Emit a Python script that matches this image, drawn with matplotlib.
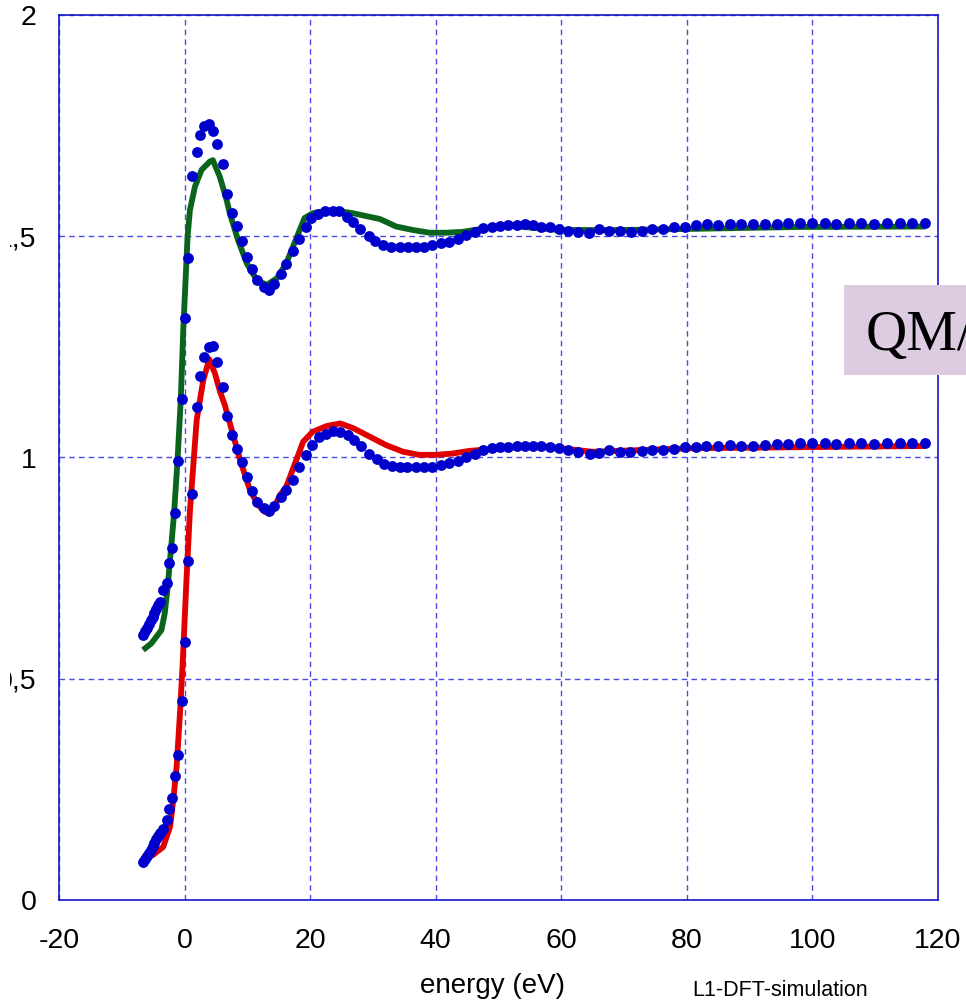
import matplotlib
matplotlib.use("Agg")
import matplotlib.pyplot as plt
from matplotlib.patches import Rectangle

plt.rcParams['font.family'] = ['Liberation Sans', 'DejaVu Sans']

# ---- data ----
exp_upper_x = [-6.62, -6.3, -6.0, -5.7, -5.4, -5.1, -4.8, -4.5, -4.2, -3.9, -3.44, -2.85, -2.48, -2.05,
               -1.53, -1.00, -0.46, 0.06, 0.59, 1.23, 1.93, 2.45, 3.09, 3.89, 4.57, 5.11, 6.07, 6.71,
               7.51, 8.31, 9.11, 9.91, 10.8, 11.6, 12.65, 13.45, 14.29, 15.36, 16.16, 17.3, 18.3,
               19.3, 20.2, 21.3, 22.4, 23.7, 24.6, 25.8, 26.8, 28.0, 29.4, 30.4, 31.6, 32.9, 34.3,
               35.6, 36.8, 38.1, 39.4, 40.8, 42.1, 43.5, 44.8, 46.2, 47.5, 48.9, 50.2, 51.5, 52.9,
               54.2, 55.5, 56.8, 58.2, 59.6, 61.0, 62.7, 64.4, 66.0, 67.6, 69.3, 71.1, 72.8, 74.5,
               76.2, 78.0, 79.7, 81.4, 83.2, 84.9, 86.9, 88.7, 90.5, 92.4, 94.3, 96.1, 98.0, 100.0,
               102.0, 103.8, 105.8, 107.8, 109.8, 111.8, 113.9, 115.9, 118.0]
exp_upper_y = [0.599, 0.607, 0.615, 0.623, 0.632, 0.640, 0.649, 0.657, 0.666, 0.673, 0.700, 0.716,
               0.762, 0.795, 0.875, 0.992, 1.132, 1.315, 1.451, 1.636, 1.690, 1.729, 1.749, 1.754,
               1.738, 1.708, 1.663, 1.595, 1.552, 1.523, 1.489, 1.453, 1.426, 1.401, 1.385, 1.379,
               1.392, 1.415, 1.437, 1.467, 1.494, 1.521, 1.541, 1.550, 1.557, 1.557, 1.557, 1.544,
               1.532, 1.516, 1.501, 1.489, 1.480, 1.476, 1.476, 1.476, 1.476, 1.476, 1.480, 1.485,
               1.487, 1.494, 1.503, 1.510, 1.519, 1.521, 1.524, 1.526, 1.526, 1.528, 1.526, 1.521,
               1.521, 1.517, 1.512, 1.510, 1.508, 1.517, 1.512, 1.512, 1.510, 1.512, 1.517, 1.517,
               1.521, 1.521, 1.526, 1.528, 1.526, 1.528, 1.528, 1.528, 1.528, 1.528, 1.530, 1.530,
               1.530, 1.530, 1.528, 1.530, 1.530, 1.528, 1.530, 1.530, 1.530, 1.530]

exp_lower_x = [-6.62, -6.3, -6.0, -5.7, -5.4, -5.1, -4.8, -4.5, -4.2, -3.9, -3.4, -2.85, -2.48, -2.05,
               -1.53, -1.00, -0.46, 0.06, 0.59, 1.23, 1.93, 2.45, 3.09, 3.89, 4.57, 5.11, 6.07, 6.71,
               7.51, 8.31, 9.11, 9.91, 10.8, 11.6, 12.65, 13.45, 14.29, 15.36, 16.2, 17.3, 18.3,
               19.3, 20.3, 21.4, 22.6, 23.7, 24.7, 26.0, 27.0, 28.1, 29.4, 30.6, 31.8, 33.1, 34.3,
               35.5, 36.8, 38.1, 39.4, 40.8, 42.1, 43.6, 44.9, 46.2, 47.5, 48.9, 50.2, 51.5, 52.9,
               54.2, 55.5, 56.8, 58.2, 59.6, 61.0, 62.7, 64.5, 66.0, 67.6, 69.3, 71.0, 72.8, 74.5,
               76.2, 77.9, 79.7, 81.4, 83.1, 85.0, 86.8, 88.7, 90.5, 92.4, 94.3, 96.1, 98.0, 100.0,
               102.0, 103.8, 105.8, 107.8, 109.8, 111.9, 113.9, 115.9, 118.0]
exp_lower_y = [0.087, 0.093, 0.099, 0.106, 0.113, 0.121, 0.129, 0.137, 0.145, 0.152, 0.160, 0.181,
               0.205, 0.230, 0.280, 0.328, 0.450, 0.582, 0.767, 0.918, 1.115, 1.184, 1.228, 1.250,
               1.252, 1.215, 1.160, 1.093, 1.050, 1.020, 0.990, 0.955, 0.925, 0.900, 0.885, 0.880,
               0.890, 0.910, 0.927, 0.949, 0.978, 1.006, 1.028, 1.046, 1.054, 1.060, 1.058, 1.051,
               1.040, 1.026, 1.009, 0.996, 0.985, 0.981, 0.978, 0.978, 0.978, 0.978, 0.979, 0.983,
               0.987, 0.993, 1.002, 1.009, 1.017, 1.021, 1.023, 1.024, 1.026, 1.026, 1.026, 1.026,
               1.024, 1.021, 1.018, 1.013, 1.009, 1.011, 1.018, 1.013, 1.013, 1.015, 1.017, 1.017,
               1.019, 1.023, 1.024, 1.026, 1.026, 1.028, 1.026, 1.026, 1.028, 1.030, 1.030, 1.032,
               1.032, 1.032, 1.030, 1.033, 1.033, 1.030, 1.033, 1.033, 1.033, 1.032]

theory_upper_x = [-6.62, -5.28, -3.69, -3.16, -2.73, -2.36, -1.67, -1.13, -0.6, -0.21, 0.32, 0.48,
                  0.85, 1.65, 2.71, 4.04, 4.5, 5.6, 6.7, 7.2, 8.5, 9.9, 11.5, 13.1, 14.7, 16.2,
                  17.8, 19.1, 20.4, 23.6, 26.8, 31.1, 33.7, 36.4, 39.0, 41.7, 44.3, 47.0, 49.7,
                  52.3, 59.8, 69.3, 82.0, 98.0, 118.0]
theory_upper_y = [0.565, 0.580, 0.610, 0.648, 0.701, 0.761, 0.874, 0.992, 1.132, 1.288, 1.450, 1.499,
                  1.559, 1.612, 1.650, 1.669, 1.672, 1.635, 1.582, 1.552, 1.492, 1.439, 1.401, 1.390,
                  1.405, 1.439, 1.495, 1.541, 1.552, 1.559, 1.552, 1.539, 1.522, 1.514, 1.508,
                  1.508, 1.510, 1.516, 1.522, 1.523, 1.514, 1.514, 1.517, 1.521, 1.522]

theory_lower_x = [-6.3, -5.0, -3.4, -2.3, -1.8, -1.27, -0.73, -0.3, 0.06, 0.3, 0.86, 1.93, 2.98, 3.93,
                  4.84, 5.64, 6.4, 8.85, 10.4, 11.7, 12.8, 13.9, 15.2, 16.2, 18.9, 20.4, 22.6, 24.8,
                  26.9, 29.5, 32.1, 34.8, 37.4, 40.1, 42.7, 45.4, 48.0, 52.3, 57.6, 65.0, 81.0, 118.0]
theory_lower_y = [0.094, 0.102, 0.120, 0.166, 0.226, 0.301, 0.422, 0.535, 0.648, 0.723, 0.881, 1.085,
                  1.175, 1.222, 1.190, 1.149, 1.119, 0.994, 0.927, 0.893, 0.877, 0.877, 0.915, 0.934,
                  1.036, 1.058, 1.071, 1.077, 1.066, 1.047, 1.028, 1.013, 1.006, 1.006, 1.009, 1.015,
                  1.018, 1.023, 1.024, 1.013, 1.021, 1.026]

x_ticks = [-20, 0, 20, 40, 60, 80, 100, 120]
x_tick_labels = ['-20', '0', '20', '40', '60', '80', '100', '120']
y_ticks = [0, 0.5, 1, 1.5, 2]
y_tick_labels = ['0', '0,5', '1', '1,5', '2']

# ---- figure ----
W, H = 966, 1005
fig = plt.figure(figsize=(W / 100, H / 100), dpi=100)
ax = fig.add_axes([59 / W, 1 - 900 / H, (938 - 59) / W, (900 - 15) / H])

ax.plot(theory_upper_x, theory_upper_y, color='#0a641c', lw=4.2, solid_capstyle='butt',
        solid_joinstyle='round', zorder=3)
ax.plot(theory_lower_x, theory_lower_y, color='#e00000', lw=4.2, solid_capstyle='butt',
        solid_joinstyle='round', zorder=3)
ax.plot(exp_upper_x, exp_upper_y, 'o', color='#0000cc', ms=7.8, mew=0, zorder=4)
ax.plot(exp_lower_x, exp_lower_y, 'o', color='#0000cc', ms=7.8, mew=0, zorder=4)

ax.set_xlim(-20, 120)
ax.set_ylim(0, 2)
ax.set_xticks(x_ticks)
ax.set_xticklabels(x_tick_labels)
ax.set_yticks(y_ticks)
ax.set_yticklabels(y_tick_labels)
ax.tick_params(axis='both', length=0, labelsize=20.5, colors='black')
ax.tick_params(axis='x', pad=20)
ax.tick_params(axis='y', pad=16)
ax.grid(True, color='#4a4ae8', lw=1.0, linestyle=(0, (4, 3)))
for s in ax.spines.values():
    s.set_color('#1515c8')
    s.set_linewidth(1.2)

fig.text(493 / W, 1 - 986 / H, 'energy (eV)', ha='center', va='center', fontsize=20)
fig.text(780 / W, 1 - 990 / H, 'L1-DFT-simulation', ha='center', va='center', fontsize=15.5)

fig.patches.append(Rectangle((844 / W, 1 - 375 / H), (W - 844) / W + 0.01, 90 / H,
                             transform=fig.transFigure, facecolor='#dccbe1', edgecolor='none',
                             zorder=5))
fig.text(866 / W, 1 - 350 / H, 'QM/', ha='left', va='baseline', fontsize=41,
         family=['Liberation Serif', 'DejaVu Serif'], zorder=6)

# the reference is cropped on its left edge
fig.patches.append(Rectangle((0, 0), 9.5 / W, 1, transform=fig.transFigure, facecolor='white',
                             edgecolor='none', zorder=10))

fig.savefig('out.png', dpi=100)
